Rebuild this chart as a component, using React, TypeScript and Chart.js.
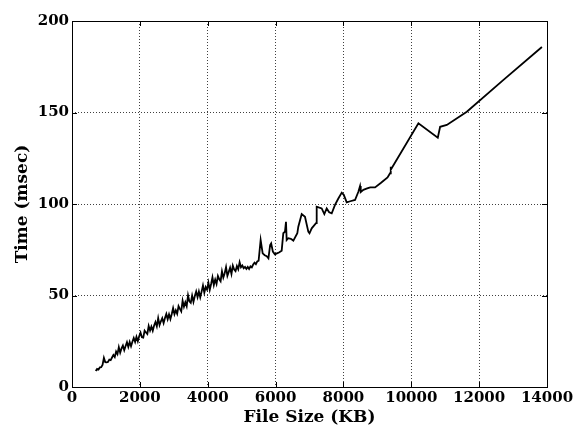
import React, { useEffect, useRef } from "react";
import { Chart, registerables } from "chart.js";

Chart.register(...registerables);

const fileSizeKB: number[] = [
  700, 740, 780, 820, 860, 900, 940, 980, 1020, 1060, 1100, 1140, 1180, 1220, 1260, 1300,
  1340, 1380, 1420, 1460, 1500, 1540, 1580, 1620, 1660, 1700, 1740, 1780, 1820, 1860, 1900,
  1940, 1980, 2020, 2060, 2100, 2140, 2180, 2220, 2260, 2300, 2340, 2380, 2420, 2460, 2500,
  2540, 2580, 2620, 2660, 2700, 2740, 2780, 2820, 2860, 2900, 2940, 2980, 3020, 3060, 3100,
  3140, 3180, 3220, 3260, 3300, 3340, 3380, 3420, 3460, 3500, 3540, 3580, 3620, 3660, 3700,
  3740, 3780, 3820, 3860, 3900, 3940, 3980, 4020, 4060, 4100, 4140, 4180, 4220, 4260, 4300,
  4340, 4380, 4420, 4460, 4500, 4540, 4580, 4620, 4660, 4700, 4740, 4780, 4820, 4860, 4900,
  4940, 4980, 5020, 5060, 5100, 5140, 5180, 5220, 5260, 5300, 5340, 5380, 5420, 5460, 5500,
  5560, 5620, 5680, 5740, 5790, 5840, 5870, 5920, 5980, 6040, 6100, 6180, 6228, 6277, 6307,
  6327, 6376, 6450, 6524, 6641, 6670, 6770, 6867, 6965, 7000, 7065, 7192, 7212, 7290, 7360,
  7437, 7507, 7580, 7655, 7752, 7850, 7950, 8010, 8097, 8200, 8342, 8440, 8490, 8510, 8588,
  8700, 8790, 8932, 9100, 9300, 9375, 9395, 9404, 10210, 10781, 10850, 11047, 11637, 12717, 13850,
];

const timeMsec: number[] = [
  8.7, 9.9, 9.5, 10.7, 10.8, 12.1, 15.9, 13.6, 13.5, 13.7, 15.0, 14.7, 16.1, 17.5, 16.4, 19.4,
  18.0, 21.8, 18.8, 21.1, 22.7, 20.1, 22.4, 24.5, 21.9, 24.6, 22.3, 24.7, 26.8, 24.6, 27.4,
  25.0, 27.7, 29.7, 27.2, 27.0, 30.8, 29.8, 29.0, 33.3, 30.8, 33.0, 30.7, 33.6, 35.5, 33.1,
  37.6, 33.8, 35.9, 37.6, 34.9, 37.7, 39.9, 37.0, 39.7, 37.1, 39.9, 43.1, 39.8, 41.9, 40.0,
  44.2, 42.7, 41.3, 47.2, 43.9, 46.3, 44.1, 50.1, 46.8, 46.0, 50.0, 46.5, 49.7, 52.2, 49.1,
  52.2, 49.0, 52.1, 55.5, 51.5, 54.6, 53.2, 57.1, 53.1, 56.3, 59.9, 55.7, 58.7, 56.3, 60.7,
  58.9, 57.8, 63.2, 59.8, 62.2, 65.5, 60.8, 62.9, 65.2, 61.8, 66.3, 64.2, 63.3, 66.1, 64.4,
  68.2, 65.4, 66.4, 64.9, 65.6, 64.5, 65.6, 64.5, 65.9, 65.4, 66.9, 67.9, 67.1, 68.6, 69.0,
  80.3, 73, 72, 71.5, 70.3, 77.6, 78.5, 74, 72.5, 73, 73.5, 74.5, 84, 84.9, 90.3,
  80.3, 81.3, 81, 80, 84, 87.6, 94.5, 93, 84.9, 84, 86.7, 89.5, 98.5, 98, 97.6,
  94.5, 97.6, 95.5, 94.9, 99.5, 103, 106.2, 105, 100.9, 101.5, 102.2, 106.7, 109.8, 106.5, 107.7,
  108.5, 109.1, 109.1, 111.5, 114.5, 116.8, 120.4, 119, 144.1, 136.2, 142.2, 143.2, 150.4, 167.8, 185.8,
];

const xTicks: number[] = [0, 2000, 4000, 6000, 8000, 10000, 12000, 14000];
const yTicks: number[] = [0, 50, 100, 150, 200];

const xTitle = "File Size (KB)";
const yTitle = "Time (msec)";

const FONT = "'DejaVu Serif', serif";

const frameAndTicks = {
  id: "frameAndTicks",
  afterDraw(chart: any) {
    const { ctx, chartArea } = chart;
    const { left, right, top, bottom } = chartArea;
    const xs = chart.scales.x;
    const ys = chart.scales.y;
    const len = 5;
    ctx.save();
    ctx.strokeStyle = "#000";
    ctx.lineWidth = 1;
    ctx.beginPath();
    for (const v of xTicks) {
      const px = Math.round(xs.getPixelForValue(v)) + 0.5;
      ctx.moveTo(px, bottom);
      ctx.lineTo(px, bottom - len);
      ctx.moveTo(px, top);
      ctx.lineTo(px, top + len);
    }
    for (const v of yTicks) {
      const py = Math.round(ys.getPixelForValue(v)) + 0.5;
      ctx.moveTo(left, py);
      ctx.lineTo(left + len, py);
      ctx.moveTo(right, py);
      ctx.lineTo(right - len, py);
    }
    ctx.stroke();
    ctx.strokeRect(Math.round(left) + 0.5, Math.round(top) + 0.5, Math.round(right - left), Math.round(bottom - top));
    ctx.restore();
  },
};

export default function App() {
  const ref = useRef<HTMLCanvasElement | null>(null);
  useEffect(() => {
    if (!ref.current) return;
    const points = fileSizeKB.map((x, i) => ({ x, y: timeMsec[i] }));
    const chart = new Chart(ref.current, {
      type: "line",
      data: {
        datasets: [
          {
            data: points,
            borderColor: "#000",
            borderWidth: 1.8,
            pointRadius: 0,
            tension: 0,
            fill: false,
          },
        ],
      },
      options: {
        responsive: false,
        animation: false,
        layout: { padding: { left: 0, right: 29, top: 21, bottom: 0 } },
        plugins: { legend: { display: false }, tooltip: { enabled: false } },
        scales: {
          x: {
            type: "linear",
            min: 0,
            max: 14000,
            afterBuildTicks: (s: any) => {
              s.ticks = xTicks.map((v) => ({ value: v }));
            },
            afterFit: (s: any) => {
              s.height = 42;
            },
            ticks: {
              color: "#000",
              font: { family: FONT, size: 15, weight: "bold" },
              padding: 2,
              maxRotation: 0,
              autoSkip: false,
              callback: (v: any) => String(v),
            },
            grid: { color: "rgba(0,0,0,0.75)", lineWidth: 1, drawTicks: false },
            border: { display: false, dash: [1, 2] },
            title: {
              display: true,
              text: xTitle,
              color: "#000",
              font: { family: FONT, size: 17, weight: "bold" },
              padding: { top: 0, bottom: 1 },
            },
          },
          y: {
            type: "linear",
            min: 0,
            max: 200,
            afterBuildTicks: (s: any) => {
              s.ticks = yTicks.map((v) => ({ value: v }));
            },
            afterFit: (s: any) => {
              s.width = 72;
            },
            ticks: {
              color: "#000",
              font: { family: FONT, size: 15, weight: "bold" },
              padding: 3,
              autoSkip: false,
              callback: (v: any) => String(v),
            },
            grid: { color: "rgba(0,0,0,0.75)", lineWidth: 1, drawTicks: false },
            border: { display: false, dash: [1, 2] },
            title: {
              display: true,
              text: yTitle,
              color: "#000",
              font: { family: FONT, size: 17, weight: "bold" },
              padding: { top: 12, bottom: 0 },
            },
          },
        },
      },
      plugins: [frameAndTicks],
    });
    return () => chart.destroy();
  }, []);
  return (
    <div style={{ position: "absolute", left: 0, top: 0, width: 576, height: 429, background: "#fff" }}>
      <canvas ref={ref} width={576} height={429} />
    </div>
  );
}
